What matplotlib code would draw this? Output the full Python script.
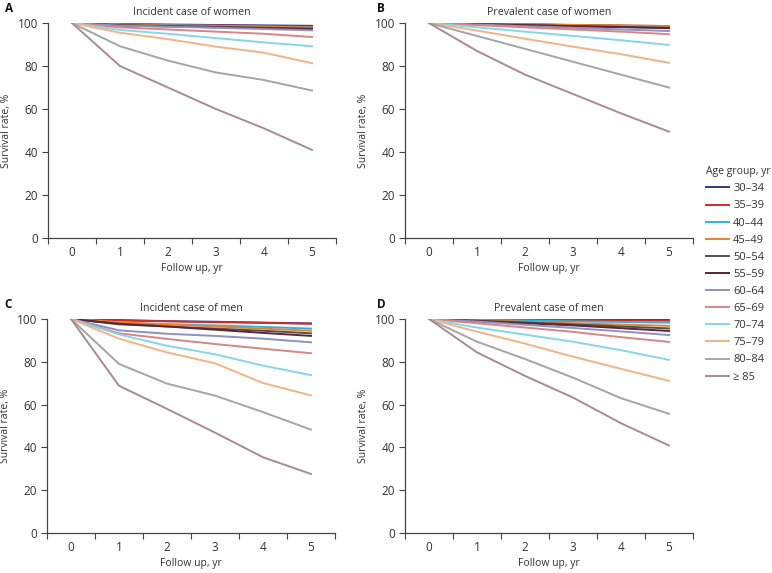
import matplotlib.pyplot as plt
from matplotlib.lines import Line2D

plt.rcParams['font.family'] = ['Open Sans', 'DejaVu Sans']

years = [0, 1, 2, 3, 4, 5]
age_groups = ['30–34', '35–39', '40–44', '45–49', '50–54', '55–59',
              '60–64', '65–69', '70–74', '75–79', '80–84', '≥ 85']
colors = ['#2b3a8c', '#d42b2b', '#2bb5d8', '#f07f2a', '#505050', '#5a2638',
          '#9090c0', '#d98585', '#85d5ee', '#f2b386', '#a5a5a5', '#aa8a94']

incident_women = [
    [100, 99.5, 99.3, 99.1, 98.9, 98.7],
    [100, 99.4, 99.1, 98.9, 98.6, 98.3],
    [100, 99.3, 99.0, 98.7, 98.4, 98.0],
    [100, 99.2, 98.8, 98.5, 98.2, 97.9],
    [100, 99.0, 98.6, 98.2, 97.8, 97.4],
    [100, 98.9, 98.4, 98.0, 97.6, 97.2],
    [100, 98.8, 98.3, 97.8, 97.2, 96.6],
    [100, 98.0, 97.0, 96.0, 95.0, 93.5],
    [100, 96.8, 95.0, 93.0, 91.0, 89.2],
    [100, 95.5, 92.5, 89.0, 86.2, 81.3],
    [100, 89.2, 82.5, 77.0, 73.5, 68.6],
    [100, 80.0, 70.0, 60.0, 51.0, 41.0],
]

prevalent_women = [
    [100, 99.7, 99.4, 99.1, 98.8, 98.6],
    [100, 99.6, 99.3, 99.0, 98.7, 98.4],
    [100, 99.6, 99.2, 98.9, 98.5, 98.2],
    [100, 99.7, 99.4, 99.1, 98.9, 98.6],
    [100, 99.5, 99.1, 98.6, 98.2, 97.8],
    [100, 99.5, 99.0, 98.5, 98.1, 97.6],
    [100, 99.3, 98.5, 97.8, 97.0, 96.3],
    [100, 99.0, 98.0, 97.0, 96.0, 94.8],
    [100, 98.0, 96.0, 94.0, 92.0, 89.8],
    [100, 96.5, 92.7, 89.0, 85.5, 81.5],
    [100, 94.0, 88.0, 82.0, 76.0, 70.0],
    [100, 87.0, 76.0, 67.0, 58.0, 49.5],
]

incident_men = [
    [100, 99.5, 99.0, 98.7, 98.3, 97.9],
    [100, 99.3, 98.9, 98.5, 98.2, 97.8],
    [100, 98.0, 97.5, 97.0, 96.3, 95.5],
    [100, 98.5, 97.5, 96.5, 95.5, 94.5],
    [100, 97.5, 96.5, 95.5, 94.5, 93.3],
    [100, 97.8, 96.5, 95.0, 93.5, 92.1],
    [100, 94.7, 93.1, 92.1, 90.8, 89.1],
    [100, 93.3, 90.7, 88.3, 86.1, 84.0],
    [100, 92.8, 87.5, 83.5, 78.2, 73.8],
    [100, 90.8, 84.4, 79.3, 70.1, 64.3],
    [100, 79.0, 69.8, 64.2, 56.5, 48.3],
    [100, 68.8, 58.0, 46.9, 35.4, 27.6],
]

prevalent_men = [
    [100, 99.9, 99.8, 99.7, 99.7, 99.6],
    [100, 99.8, 99.6, 99.5, 99.3, 99.2],
    [100, 99.6, 99.3, 98.9, 98.6, 98.3],
    [100, 99.4, 98.7, 98.0, 97.4, 96.8],
    [100, 99.2, 98.4, 97.5, 96.5, 95.6],
    [100, 99.0, 98.0, 97.0, 95.7, 94.4],
    [100, 98.8, 97.3, 95.8, 94.2, 92.5],
    [100, 98.0, 96.0, 94.0, 91.5, 89.3],
    [100, 96.0, 92.7, 89.4, 85.4, 80.9],
    [100, 94.1, 88.5, 82.4, 76.7, 71.1],
    [100, 89.4, 81.3, 72.6, 63.0, 55.7],
    [100, 84.4, 73.4, 63.3, 51.3, 40.9],
]

# letter, title, data, axes rect, letter position
panels = [
    ('A', 'Incident case of women', incident_women, [0.0622, 0.5846, 0.373, 0.3752], (0.006, 0.985)),
    ('B', 'Prevalent case of women', prevalent_women, [0.5246, 0.5846, 0.373, 0.3752], (0.488, 0.985)),
    ('C', 'Incident case of men', incident_men, [0.0609, 0.0698, 0.373, 0.3735], (0.006, 0.469)),
    ('D', 'Prevalent case of men', prevalent_men, [0.5246, 0.0698, 0.373, 0.3735], (0.488, 0.469)),
]

text_color = '#333333'
fig = plt.figure(figsize=(7.72, 5.73), dpi=100)

for letter, title, data, rect, lpos in panels:
    ax = fig.add_axes(rect)
    for series, c in zip(data, colors):
        ax.plot(years, series, color=c, lw=1.4)
    ax.set_xlim(-0.5, 5.5)
    ax.set_ylim(0, 100)
    ax.set_yticks(range(0, 101, 20))
    ax.set_xticks([x - 0.5 for x in years] + [5.5])
    ax.set_xticklabels([])
    ax.set_xticks(years, minor=True)
    ax.set_xticklabels([str(y) for y in years], minor=True)
    ax.tick_params(axis='both', which='major', direction='out', length=4,
                   color='#444444', labelsize=8.5, labelcolor=text_color, pad=3)
    ax.tick_params(axis='x', which='minor', length=0, pad=5.5,
                   labelsize=8.5, labelcolor=text_color)
    for s in ['top', 'right']:
        ax.spines[s].set_visible(False)
    for s in ['left', 'bottom']:
        ax.spines[s].set_color('#444444')
        ax.spines[s].set_linewidth(0.9)
    ax.set_title(title, fontsize=7.7, color=text_color, pad=6)
    ax.set_xlabel('Follow up, yr', fontsize=7.5, color=text_color, labelpad=3)
    ax.set_ylabel('Survival rate, %', fontsize=7.5, color=text_color, labelpad=4)
    fig.text(lpos[0], lpos[1], letter, fontsize=8.5, fontweight='bold',
             color='#111111', va='center')

handles = [Line2D([0], [0], color=c, lw=1.4) for c in colors]
leg = fig.legend(handles, age_groups, loc='upper left', bbox_to_anchor=(0.9145, 0.71),
                 frameon=False, title='Age group, yr', fontsize=8, title_fontsize=7.5,
                 handlelength=2.1, handletextpad=0.35, labelspacing=0.55,
                 borderpad=0, borderaxespad=0,
                 alignment='left', labelcolor=text_color)
leg.get_title().set_color(text_color)

fig.savefig('out.png', dpi=100)
